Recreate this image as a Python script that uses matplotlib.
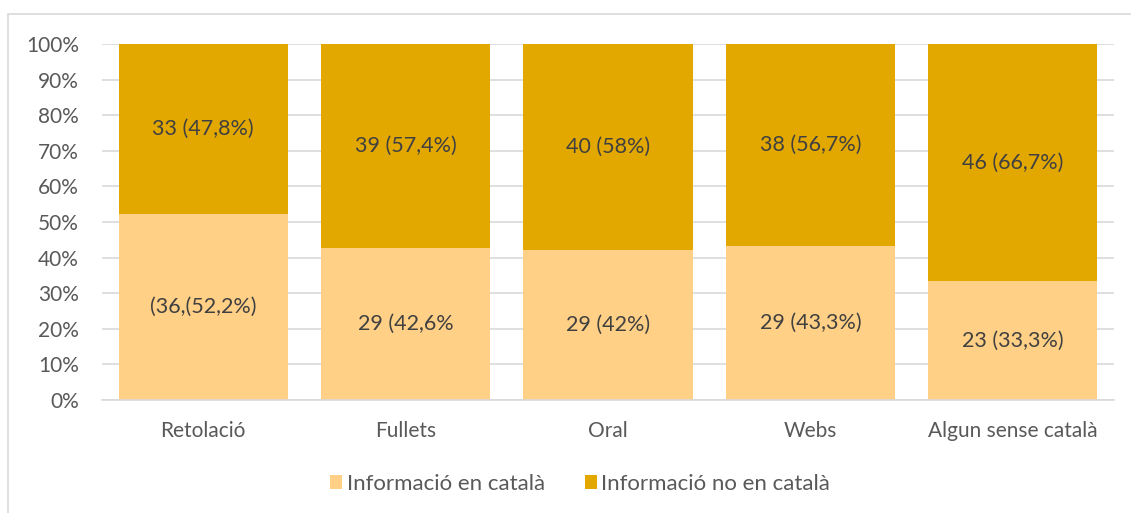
import numpy as np
import matplotlib.pyplot as plt
from matplotlib.patches import Rectangle

categories = ["Retolació", "Fullets", "Oral", "Webs", "Algun sense català"]
pct_catala = [52.2, 42.6, 42.0, 43.3, 33.3]
pct_no_catala = [47.8, 57.4, 58.0, 56.7, 66.7]
labels_catala = ["(36,(52,2%)", "29 (42,6%", "29 (42%)", "29 (43,3%)", "23 (33,3%)"]
labels_no_catala = ["33 (47,8%)", "39 (57,4%)", "40 (58%)", "38 (56,7%)", "46 (66,7%)"]
series_names = ["Informació en català", "Informació no en català"]

color_light = "#FFD086"
color_dark = "#E2A800"
text_color = "#595959"

plt.rcParams['font.family'] = ['Lato', 'DejaVu Sans']

fig = plt.figure(figsize=(11.31, 5.13), dpi=100)
ax = fig.add_axes([102 / 1131, 1 - 400 / 513, (1114 - 102) / 1131, (400 - 44) / 513])

x = np.arange(len(categories))
width = 0.835
b1 = ax.bar(x, pct_catala, width, color=color_light, label=series_names[0], zorder=2)
b2 = ax.bar(x, pct_no_catala, width, bottom=pct_catala, color=color_dark, label=series_names[1], zorder=2)

for i in range(len(categories)):
    ax.text(x[i], pct_catala[i] / 2, labels_catala[i], ha="center", va="center",
            fontsize=15.5, color="#404040")
    ax.text(x[i], pct_catala[i] + pct_no_catala[i] / 2, labels_no_catala[i], ha="center", va="center",
            fontsize=15.5, color="#404040")

ax.set_xlim(-0.5, len(categories) - 0.5)
ax.set_ylim(0, 100)
ax.set_yticks(np.arange(0, 101, 10))
ax.set_yticklabels([f"{v}%" for v in range(0, 101, 10)])
ax.set_xticks(x)
ax.set_xticklabels(categories)
ax.tick_params(axis="both", length=0, labelsize=15, colors=text_color)
ax.tick_params(axis="y", pad=16.5)
ax.tick_params(axis="x", pad=15)
ax.grid(axis="y", color="#D9D9D9", linewidth=1.2, zorder=0)
for side in ["top", "right", "left"]:
    ax.spines[side].set_visible(False)
ax.spines["bottom"].set_color("#D9D9D9")
ax.spines["bottom"].set_linewidth(1.2)

fig.legend(handles=[b1, b2], loc="center", bbox_to_anchor=(580 / 1131, 1 - 484 / 513), ncol=2,
           frameon=False, fontsize=16, labelcolor=text_color, handlelength=0.55, handleheight=0.55,
           handletextpad=0.2, columnspacing=1.8)

# chart border (only left and top edges fall inside the image)
fig.patches.append(Rectangle((8 / 1131, -0.1), 1.2, 1 - 14 / 513 + 0.1, transform=fig.transFigure,
                             fill=False, edgecolor="#D9D9D9", linewidth=1.2))

fig.savefig("out.png", dpi=100)
